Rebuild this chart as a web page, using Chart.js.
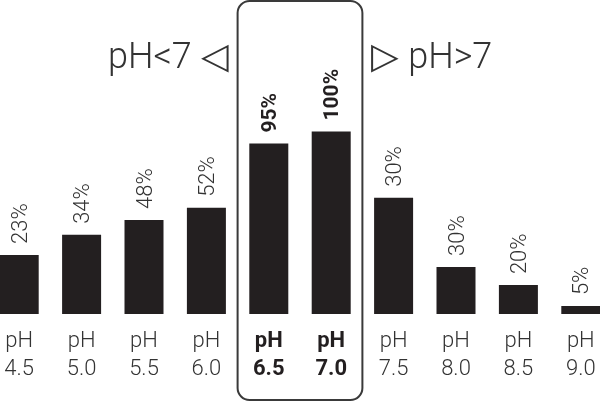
<!DOCTYPE html>
<html>
<head>
<meta charset="utf-8">
<script src="https://cdn.jsdelivr.net/npm/chart.js@4.4.1/dist/chart.umd.min.js"></script>
<style>
  html, body { margin: 0; padding: 0; background: #fff; overflow: hidden; }
  #wrap { position: absolute; left: -12px; top: 0; width: 624px; height: 402px; }
</style>
</head>
<body>
<div id="wrap"><canvas id="phChart"></canvas></div>
<script>
// pH levels along the bottom
const phLevels = ['4.5', '5.0', '5.5', '6.0', '6.5', '7.0', '7.5', '8.0', '8.5', '9.0'];
// bar heights as drawn in the picture (tallest bar = 100)
const barHeights = [32.4, 43.4, 51.6, 58.2, 93.4, 100, 63.7, 25.8, 15.9, 4.4];
// percentage printed above each bar
const percentLabels = ['23%', '34%', '48%', '52%', '95%', '100%', '30%', '30%', '20%', '5%'];
// the neutral range shown in bold inside the box
const neutralIdx = [4, 5];
const leftTitle = 'pH<7 \u25C1';
const rightTitle = '\u25B7 pH>7';

const ink = '#231f20';
const textGray = '#333333';

const overlayPlugin = {
  id: 'overlay',
  afterDatasetsDraw(chart) {
    const ctx = chart.ctx;
    const x = chart.scales.x;
    const meta = chart.getDatasetMeta(0);

    // rotated percent labels above bars
    meta.data.forEach((bar, i) => {
      const bold = neutralIdx.includes(i);
      ctx.save();
      ctx.translate(bar.x + 2, bar.y - 11);
      ctx.rotate(-Math.PI / 2);
      ctx.font = (bold ? 'bold 21px' : '300 22px') + ' Roboto';
      ctx.fillStyle = bold ? ink : textGray;
      ctx.textAlign = 'left';
      ctx.textBaseline = 'middle';
      ctx.fillText(percentLabels[i], 0, 0);
      ctx.restore();
    });

    // box around the neutral range
    const left = (x.getPixelForTick(neutralIdx[0] - 1) + x.getPixelForTick(neutralIdx[0])) / 2;
    const right = (x.getPixelForTick(neutralIdx[1]) + x.getPixelForTick(neutralIdx[1] + 1)) / 2;
    const top = 1, bottom = chart.height - 2;
    ctx.save();
    ctx.strokeStyle = '#3a3a3a';
    ctx.lineWidth = 2;
    ctx.beginPath();
    ctx.roundRect(left, top, right - left, bottom - top, 12);
    ctx.stroke();

    // side titles
    ctx.font = '300 36px Roboto, "DejaVu Sans"';
    ctx.fillStyle = textGray;
    ctx.textBaseline = 'alphabetic';
    ctx.textAlign = 'right';
    ctx.fillText(leftTitle, left - 9, 68);
    ctx.textAlign = 'left';
    ctx.fillText(rightTitle, right + 9, 68);
    ctx.restore();
  }
};

new Chart(document.getElementById('phChart'), {
  type: 'bar',
  data: {
    labels: phLevels.map(v => ['pH', v]),
    datasets: [{
      data: barHeights,
      backgroundColor: ink,
      borderWidth: 0,
      barPercentage: 1,
      categoryPercentage: 0.625
    }]
  },
  options: {
    responsive: true,
    maintainAspectRatio: false,
    animation: false,
    layout: { padding: { top: 0, left: 0, right: 0, bottom: 6 } },
    plugins: {
      legend: { display: false },
      tooltip: { enabled: false }
    },
    scales: {
      x: {
        grid: { display: false, drawTicks: false },
        border: { display: false },
        ticks: {
          padding: 13,
          maxRotation: 0,
          autoSkip: false,
          color: (c) => neutralIdx.includes(c.index) ? ink : textGray,
          font: (c) => ({
            family: 'Roboto',
            size: 22,
            weight: neutralIdx.includes(c.index) ? 'bold' : '300',
            lineHeight: 1.27
          })
        }
      },
      y: {
        display: false,
        min: 0,
        max: 172
      }
    }
  },
  plugins: [overlayPlugin]
});
</script>
</body>
</html>
